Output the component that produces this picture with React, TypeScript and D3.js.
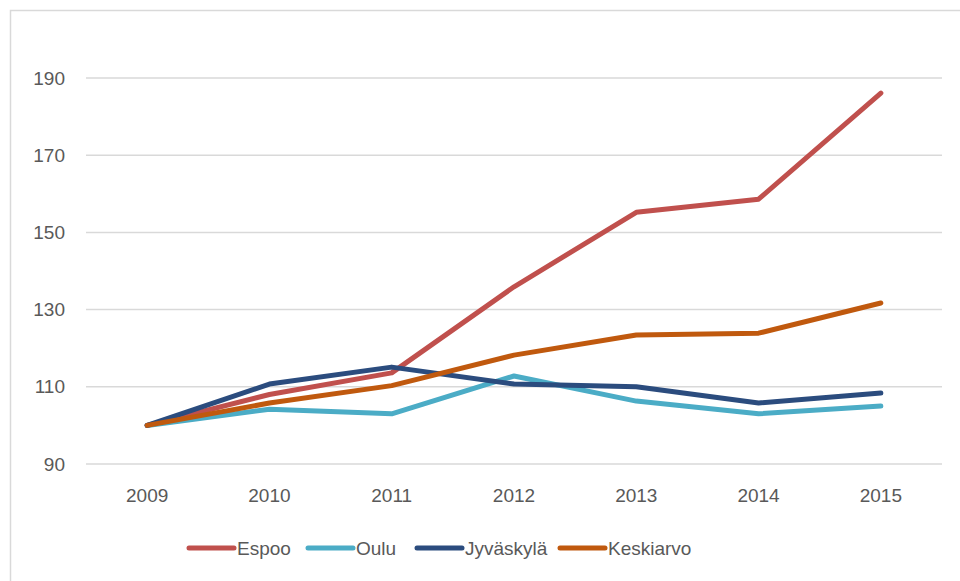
import React, { useEffect, useRef } from 'react';
import * as d3 from 'd3';

const years = ['2009', '2010', '2011', '2012', '2013', '2014', '2015'];
const espoo = [100, 108, 113.6, 135.9, 155.2, 158.6, 186.1];
const oulu = [100, 104.2, 103, 112.8, 106.3, 103, 105];
const jyvaskyla = [100, 110.7, 115.1, 110.7, 110, 105.8, 108.4];
const keskiarvo = [100, 105.8, 110.3, 118.2, 123.4, 123.9, 131.7];
const yTicks = [90, 110, 130, 150, 170, 190];

const seriesNames = ['Espoo', 'Oulu', 'Jyväskylä', 'Keskiarvo'];
const seriesValues = [espoo, oulu, jyvaskyla, keskiarvo];
const seriesColors = ['#C0504D', '#4BACC6', '#2B4C7E', '#C0590E'];

const FONT = "'Liberation Sans', Arial, sans-serif";

export default function App() {
    const ref = useRef<SVGSVGElement>(null);

    useEffect(() => {
        const width = 960,
            height = 581;
        const left = 86,
            right = 942,
            top = 78,
            bottom = 464;

        const svg = d3.select(ref.current);
        svg.selectAll('*').remove();

        svg.append('rect')
            .attr('width', width)
            .attr('height', height)
            .attr('fill', '#fff');

        // chart border (cut off right and bottom)
        svg.append('rect')
            .attr('x', 10.5)
            .attr('y', 10.5)
            .attr('width', 980)
            .attr('height', 600)
            .attr('fill', 'none')
            .attr('stroke', '#D9D9D9')
            .attr('stroke-width', 1.5);

        const x = d3.scaleBand().domain(years).range([left, right]);
        const y = d3.scaleLinear().domain([90, 190]).range([bottom, top]);

        // gridlines
        svg.append('g')
            .selectAll('line')
            .data(yTicks)
            .enter()
            .append('line')
            .attr('x1', left)
            .attr('x2', right)
            .attr('y1', d => y(d))
            .attr('y2', d => y(d))
            .attr('stroke', '#D9D9D9')
            .attr('stroke-width', 1.5);

        // y labels
        svg.append('g')
            .selectAll('text')
            .data(yTicks)
            .enter()
            .append('text')
            .attr('x', 65)
            .attr('y', d => y(d))
            .attr('dy', '0.35em')
            .attr('text-anchor', 'end')
            .attr('font-family', FONT)
            .attr('font-size', 19)
            .attr('fill', '#595959')
            .text(d => d);

        // x labels
        svg.append('g')
            .selectAll('text')
            .data(years)
            .enter()
            .append('text')
            .attr('x', d => (x(d) as number) + x.bandwidth() / 2)
            .attr('y', 502)
            .attr('text-anchor', 'middle')
            .attr('font-family', FONT)
            .attr('font-size', 19)
            .attr('fill', '#595959')
            .text(d => d);

        const line = d3.line<number>()
            .x((_, i) => (x(years[i]) as number) + x.bandwidth() / 2)
            .y(d => y(d));

        svg.append('g')
            .selectAll('path')
            .data(seriesValues)
            .enter()
            .append('path')
            .attr('d', d => line(d))
            .attr('fill', 'none')
            .attr('stroke', (_, i) => seriesColors[i])
            .attr('stroke-width', 5)
            .attr('stroke-linejoin', 'round')
            .attr('stroke-linecap', 'round');

        // legend
        const legendX = [189, 308, 417, 560];
        const ly = 548;
        const legend = svg.append('g');
        seriesNames.forEach((name, i) => {
            const lx = legendX[i];
            legend.append('line')
                .attr('x1', lx)
                .attr('x2', lx + 45)
                .attr('y1', ly)
                .attr('y2', ly)
                .attr('stroke', seriesColors[i])
                .attr('stroke-width', 5)
                .attr('stroke-linecap', 'round');
            legend.append('text')
                .attr('x', lx + 48)
                .attr('y', ly)
                .attr('dy', '0.35em')
                .attr('font-family', FONT)
                .attr('font-size', 19)
                .attr('fill', '#595959')
                .text(name);
        });
    }, []);

    return (
        <svg
            ref={ref}
            width={960}
            height={581}
            style={{ position: 'absolute', left: 0, top: 0 }}
        ></svg>
    );
}
